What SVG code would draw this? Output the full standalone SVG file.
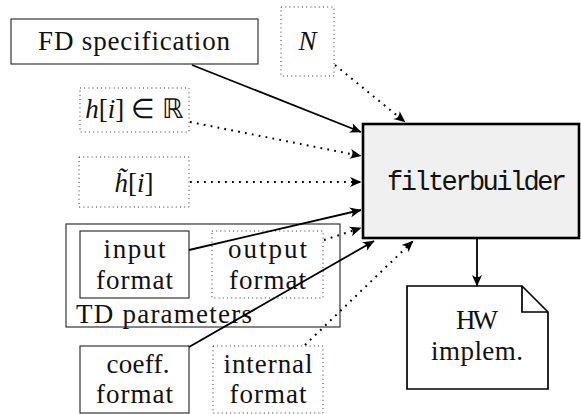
<svg xmlns="http://www.w3.org/2000/svg" width="581" height="414" viewBox="0 0 581 414">
<style>
text{font-size:27px;fill:#111;text-anchor:middle}
.it{font-style:italic}
.box{fill:#fff;stroke:#222;stroke-width:1.1}
.dbox{fill:none;stroke:#333;stroke-width:1;stroke-dasharray:1 3.2}
.sc{fill:none;stroke:#000;stroke-width:1.8;marker-end:url(#ah)}
.dc{fill:none;stroke:#000;stroke-width:2;stroke-dasharray:1.8 5.2;marker-end:url(#ah)}
</style>
<defs>
<marker id="ah" viewBox="-12 -6 13 12" refX="0" refY="0" markerWidth="13" markerHeight="12" markerUnits="userSpaceOnUse" orient="auto">
<path d="M0.5,0 L-11,-5 Q-6.5,0 -11,5 Z" fill="#000"/>
</marker>
</defs>
<g font-family="Liberation Serif, serif">
<g id="fd-spec">
<rect class="box" x="11" y="19" width="247" height="45"/>
<text x="134" y="50" textLength="192">FD specification</text>
</g>
<g id="n-param">
<rect class="dbox" x="281" y="7" width="53" height="69"/>
<text class="it" x="307.5" y="50">N</text>
</g>
<g id="h-real">
<rect class="dbox" x="80" y="88" width="109" height="44"/>
<text x="134" y="118"><tspan class="it">h</tspan>[<tspan class="it">i</tspan>] ∈ ℝ</text>
</g>
<g id="h-tilde">
<rect class="dbox" x="79" y="157" width="110" height="50"/>
<text x="134" y="192"><tspan class="it">h̃</tspan>[<tspan class="it">i</tspan>]</text>
</g>
<g id="td-params">
<rect class="box" x="66" y="224" width="274" height="103"/>
<text x="164" y="323" textLength="176">TD parameters</text>
</g>
<g id="input-format">
<rect class="box" x="80" y="231" width="109" height="67"/>
<text x="134.5" y="258" textLength="62">input</text>
<text x="134.5" y="289" textLength="77">format</text>
</g>
<g id="output-format">
<rect class="dbox" x="212" y="231" width="111" height="67"/>
<text x="267.5" y="258" textLength="79">output</text>
<text x="267.5" y="289" textLength="77">format</text>
</g>
<g id="coeff-format">
<rect class="box" x="80" y="346" width="109" height="67"/>
<text x="138" y="373" textLength="63">coeff.</text>
<text x="134.5" y="403" textLength="77">format</text>
</g>
<g id="internal-format">
<rect class="dbox" x="213" y="346" width="110" height="67"/>
<text x="268" y="373" textLength="89">internal</text>
<text x="268" y="403" textLength="77">format</text>
</g>
<g id="filterbuilder">
<rect x="363" y="124" width="216" height="114" fill="#f0f0f0" stroke="#000" stroke-width="2.6"/>
<text font-family="Liberation Mono, monospace" font-size="23" x="477" y="190" textLength="180">filterbuilder</text>
</g>
<g id="hw-implem">
<path d="M407,286 H522 L548,312 V389 H407 Z" fill="#fff" stroke="#000" stroke-width="1.7"/>
<path d="M522,286 V312 H548" fill="none" stroke="#000" stroke-width="1.7"/>
<text x="477" y="329" textLength="42">HW</text>
<text x="477" y="360" textLength="92">implem.</text>
</g>
</g>
<g id="connectors">
<path class="sc" d="M192,65 L361,132"/>
<path class="dc" d="M335,65 L405,122"/>
<path class="dc" d="M190,122 L361,156"/>
<path class="dc" d="M190,182 L361,182"/>
<path class="sc" d="M189,250 L361,210"/>
<path class="dc" d="M324,240 L361,228"/>
<path class="sc" d="M189,347 L374,241"/>
<path class="dc" d="M305,345 L413,241"/>
<path class="sc" d="M477,239 L477,286"/>
</g>
</svg>
